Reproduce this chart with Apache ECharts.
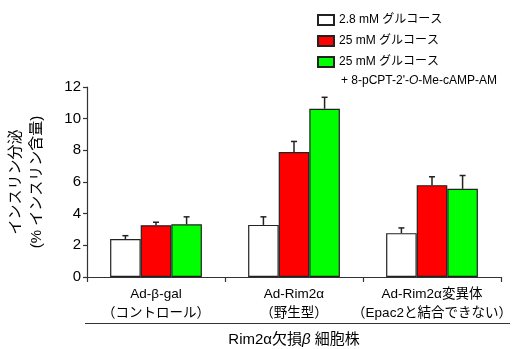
<!DOCTYPE html>
<html><head><meta charset="utf-8">
<script src="https://cdn.jsdelivr.net/npm/echarts@6/dist/echarts.min.js"></script>
<style>html,body{margin:0;padding:0;background:#fff}#c{width:519px;height:349px}</style>
</head><body><div id="c"></div>
<script>
var categories = ['Ad-β-gal\n（コントロール）', 'Ad-Rim2α\n（野生型）', 'Ad-Rim2α変異体\n（Epac2と結合できない）'];
var seriesNames = ['2.8 mM グルコース', '25 mM グルコース', '25 mM グルコース '];
var lowGlucose = [2.4, 3.29, 2.77];
var highGlucose = [3.27, 7.89, 5.8];
var highGlucoseEpac = [3.33, 10.63, 5.57];
var lowGlucoseErr = [0.21, 0.51, 0.33];
var highGlucoseErr = [0.19, 0.67, 0.53];
var highGlucoseEpacErr = [0.47, 0.72, 0.84];
var yTicks = [0, 2, 4, 6, 8, 10, 12];

var FONT = '"Liberation Sans", Arial, "Noto Sans CJK JP", sans-serif';
var colors = ['#ffffff', '#ff0000', '#00ff00'];
var CAT_GAP = 0.335;
var means = [lowGlucose, highGlucose, highGlucoseEpac];
var errs = [lowGlucoseErr, highGlucoseErr, highGlucoseEpacErr];

var series = [];
means.forEach(function (vals, i) {
  series.push({
    name: seriesNames[i], type: 'bar', data: vals,
    barGap: '0%', barCategoryGap: (CAT_GAP * 100) + '%',
    itemStyle: { color: colors[i], borderColor: '#222', borderWidth: 1.2 },
    z: 2
  });
});
means.forEach(function (vals, i) {
  series.push({
    type: 'custom', z: 5, silent: true,
    data: vals.map(function (v, k) { return [k, v, errs[i][k]]; }),
    encode: { x: 0, y: 1 },
    renderItem: function (params, api) {
      var x = api.value(0), m = api.value(1), e = api.value(2);
      var base = api.coord([x, m]);
      var top = api.coord([x, m + e]);
      var catW = api.size([1, 0])[0];
      var barW = catW * (1 - CAT_GAP) / 3;
      var cx = base[0] + (i - 1) * barW;
      var st = { stroke: '#222', lineWidth: 1.5 };
      return { type: 'group', children: [
        { type: 'line', shape: { x1: cx, y1: base[1], x2: cx, y2: top[1] }, style: st },
        { type: 'line', shape: { x1: cx - 3, y1: top[1], x2: cx + 3, y2: top[1] }, style: st }
      ]};
    }
  });
});

var chart = echarts.init(document.getElementById('c'));
chart.setOption({
  animation: false,
  textStyle: { fontFamily: FONT },
  grid: { left: 87, right: 18, top: 87, bottom: 72, containLabel: false, outerBoundsMode: 'none' },
  legend: {
    orient: 'vertical', left: 317, top: 14, padding: 0,
    icon: 'rect',
    itemWidth: 16, itemHeight: 10, itemGap: 9, itemTextGap: 6,
    data: seriesNames,
    textStyle: { fontSize: 12, color: '#000', fontFamily: FONT }
  },
  xAxis: {
    type: 'category', data: categories,
    axisLine: { lineStyle: { color: '#333', width: 1.2 } },
    axisTick: { show: true, length: 5, lineStyle: { color: '#333', width: 1.2 } },
    axisLabel: { color: '#000', fontSize: 13.5, lineHeight: 19, margin: 8, interval: 0, hideOverlap: false, fontFamily: FONT },
    name: '{t|Rim2α欠損}{i|β}{t| 細胞株}',
    nameLocation: 'middle', nameGap: 55,
    nameTextStyle: { rich: {
      t: { fontSize: 15, color: '#000', fontFamily: FONT },
      i: { fontSize: 15, color: '#000', fontStyle: 'italic', fontFamily: FONT }
    } }
  },
  yAxis: {
    type: 'value', min: yTicks[0], max: yTicks[yTicks.length - 1], interval: 2,
    axisLine: { show: true, lineStyle: { color: '#333', width: 1.2 } },
    axisTick: { show: true, length: 4, lineStyle: { color: '#333', width: 1.2 } },
    axisLabel: { color: '#000', fontSize: 15, margin: 6, fontFamily: FONT },
    splitLine: { show: false },
    name: 'インスリン分泌\n(% インスリン含量)',
    nameLocation: 'middle', nameGap: 40,
    nameTextStyle: { fontSize: 15, color: '#000', lineHeight: 21, fontFamily: FONT }
  },
  graphic: [
    { type: 'line', shape: { x1: 85, y1: 323.5, x2: 510, y2: 323.5 }, style: { stroke: '#333', lineWidth: 1.2 } },
    { type: 'text', left: 341, top: 75, style: {
      text: "{a|+ 8-pCPT-2'-}{i|O}{a|-Me-cAMP-AM}",
      rich: {
        a: { fontSize: 12, fill: '#000', fontFamily: FONT },
        i: { fontSize: 12, fill: '#000', fontStyle: 'italic', fontFamily: FONT }
      }
    } }
  ],
  series: series
});
</script></body></html>
